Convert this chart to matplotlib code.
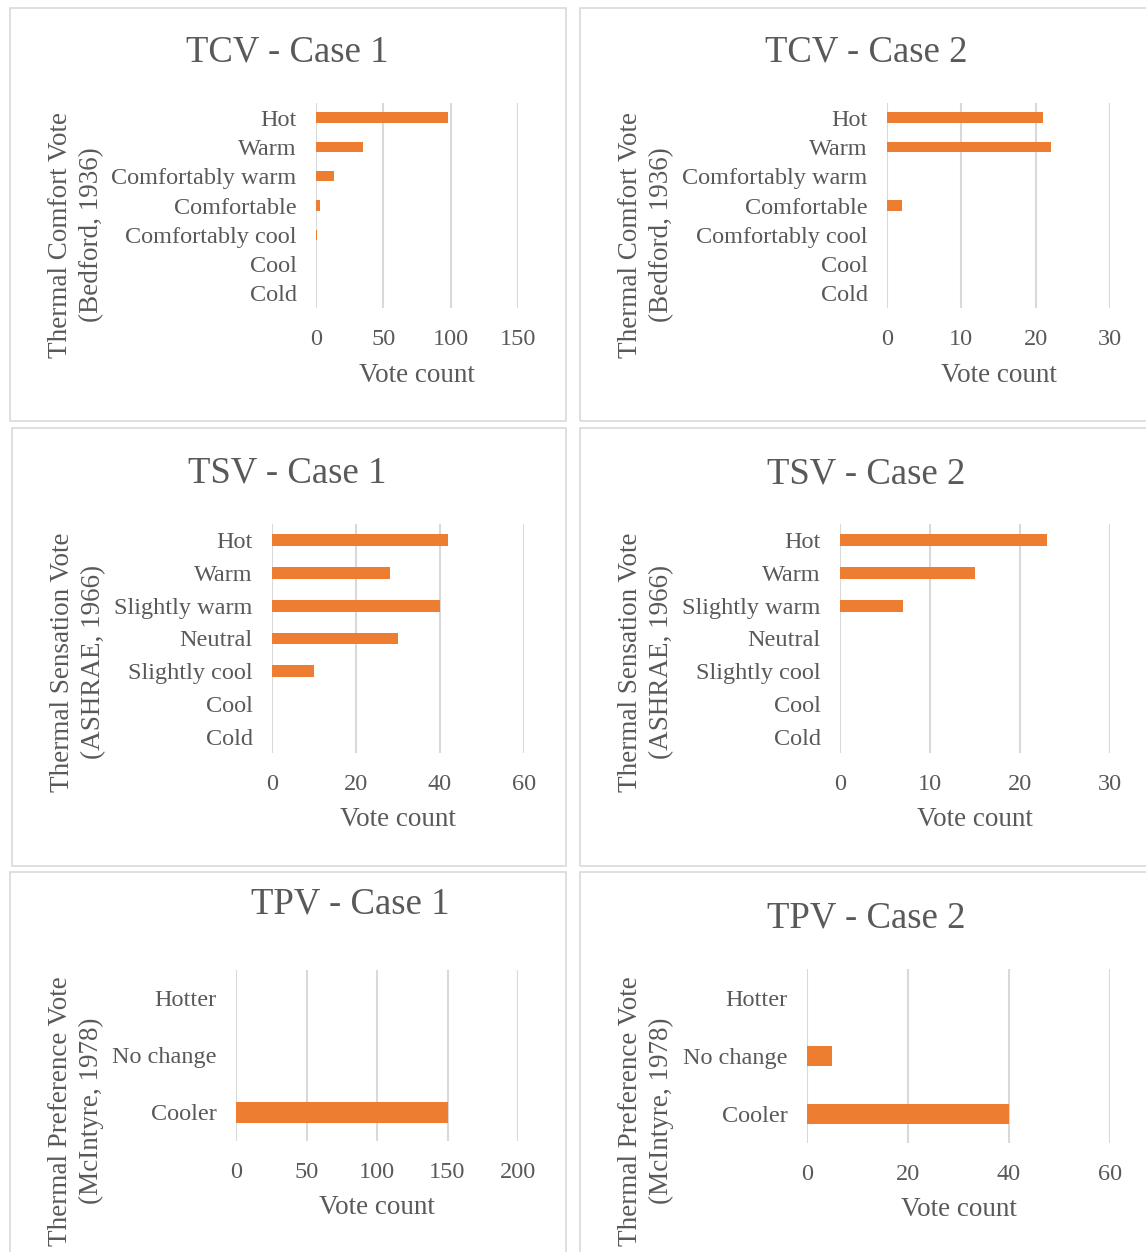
import matplotlib as mpl
mpl.use("Agg")
import matplotlib.pyplot as plt
from matplotlib.patches import Rectangle

mpl.rcParams['font.family'] = ['Liberation Serif', 'DejaVu Serif']

# data
tcv_cats = ["Hot", "Warm", "Comfortably warm", "Comfortable", "Comfortably cool", "Cool", "Cold"]
tcv_case1 = [98, 35, 13, 3, 1, 0, 0]
tcv_case2 = [21, 22, 0, 2, 0, 0, 0]

tsv_cats = ["Hot", "Warm", "Slightly warm", "Neutral", "Slightly cool", "Cool", "Cold"]
tsv_case1 = [42, 28, 40, 30, 10, 0, 0]
tsv_case2 = [23, 15, 7, 0, 0, 0, 0]

tpv_cats = ["Hotter", "No change", "Cooler"]
tpv_case1 = [0, 0, 150]
tpv_case2 = [0, 5, 40]

W, H = 1146, 1252
ORANGE = "#ED7D31"
GRID = "#D9D9D9"
TXT = "#595959"

fig = plt.figure(figsize=(W / 100, H / 100), dpi=100)


def fx(x):
    return x / W


def fy(y):
    return 1 - y / H


def panel(box, plot, title, tpos, cats, vals, xmax, step, ylab, ypos, xlpos):
    x0, y0, x1, y1 = box
    fig.patches.append(Rectangle((fx(x0), fy(y1)), fx(x1 - x0), (y1 - y0) / H,
                                 transform=fig.transFigure, fill=False,
                                 edgecolor=GRID, linewidth=1.2))
    px0, py0, px1, py1 = plot
    ax = fig.add_axes([fx(px0), fy(py1), fx(px1 - px0), (py1 - py0) / H])
    n = len(cats)
    pos = list(range(n))
    ax.barh(pos, vals, height=0.36, color=ORANGE, zorder=3)
    ax.set_ylim(n - 0.5, -0.5)
    ax.set_xlim(0, xmax)
    ax.set_xticks(list(range(0, xmax + 1, step)))
    ax.set_yticks(pos)
    ax.set_yticklabels(cats)
    ax.tick_params(length=0, labelsize=17.5, colors=TXT)
    ax.tick_params(axis='x', pad=15)
    ax.tick_params(axis='y', pad=14)
    ax.grid(axis='x', color=GRID, linewidth=1.5, zorder=0)
    for s in ax.spines.values():
        s.set_visible(False)
    fig.text(fx(tpos[0]), fy(tpos[1]), title, fontsize=26.5, color=TXT,
             ha='center', va='center')
    fig.text(fx(ypos[0]), fy(ypos[1]), ylab, fontsize=19.5, color=TXT,
             ha='center', va='center', rotation=90, multialignment='center',
             linespacing=1.3)
    fig.text(fx(xlpos[0]), fy(xlpos[1]), "Vote count", fontsize=19.5, color=TXT,
             ha='center', va='center')
    return ax


panel((10, 8, 566, 421), (316, 103, 518, 308), "TCV - Case 1", (287, 52),
      tcv_cats, tcv_case1, 150, 50,
      "Thermal Comfort Vote\n(Bedford, 1936)", (76, 235), (417, 375))
panel((580, 8, 1160, 421), (887, 103, 1110, 308), "TCV - Case 2", (866, 52),
      tcv_cats, tcv_case2, 30, 10,
      "Thermal Comfort Vote\n(Bedford, 1936)", (646, 235), (999, 375))
panel((12, 428, 566, 866), (272, 524, 524, 753), "TSV - Case 1", (287, 473),
      tsv_cats, tsv_case1, 60, 20,
      "Thermal Sensation Vote\n(ASHRAE, 1966)", (78, 662), (398, 819))
panel((580, 428, 1160, 866), (840, 524, 1110, 753), "TSV - Case 2", (866, 474),
      tsv_cats, tsv_case2, 30, 10,
      "Thermal Sensation Vote\n(ASHRAE, 1966)", (646, 662), (975, 819))
panel((10, 872, 566, 1262), (236, 970, 518, 1141), "TPV - Case 1", (350, 904),
      tpv_cats, tpv_case1, 200, 50,
      "Thermal Preference Vote\n(McIntyre, 1978)", (76, 1111), (377, 1207))
panel((580, 872, 1160, 1262), (807, 969, 1110, 1143), "TPV - Case 2", (866, 918),
      tpv_cats, tpv_case2, 60, 20,
      "Thermal Preference Vote\n(McIntyre, 1978)", (646, 1111), (959, 1210))

fig.savefig("out.png", dpi=100, facecolor="white")
